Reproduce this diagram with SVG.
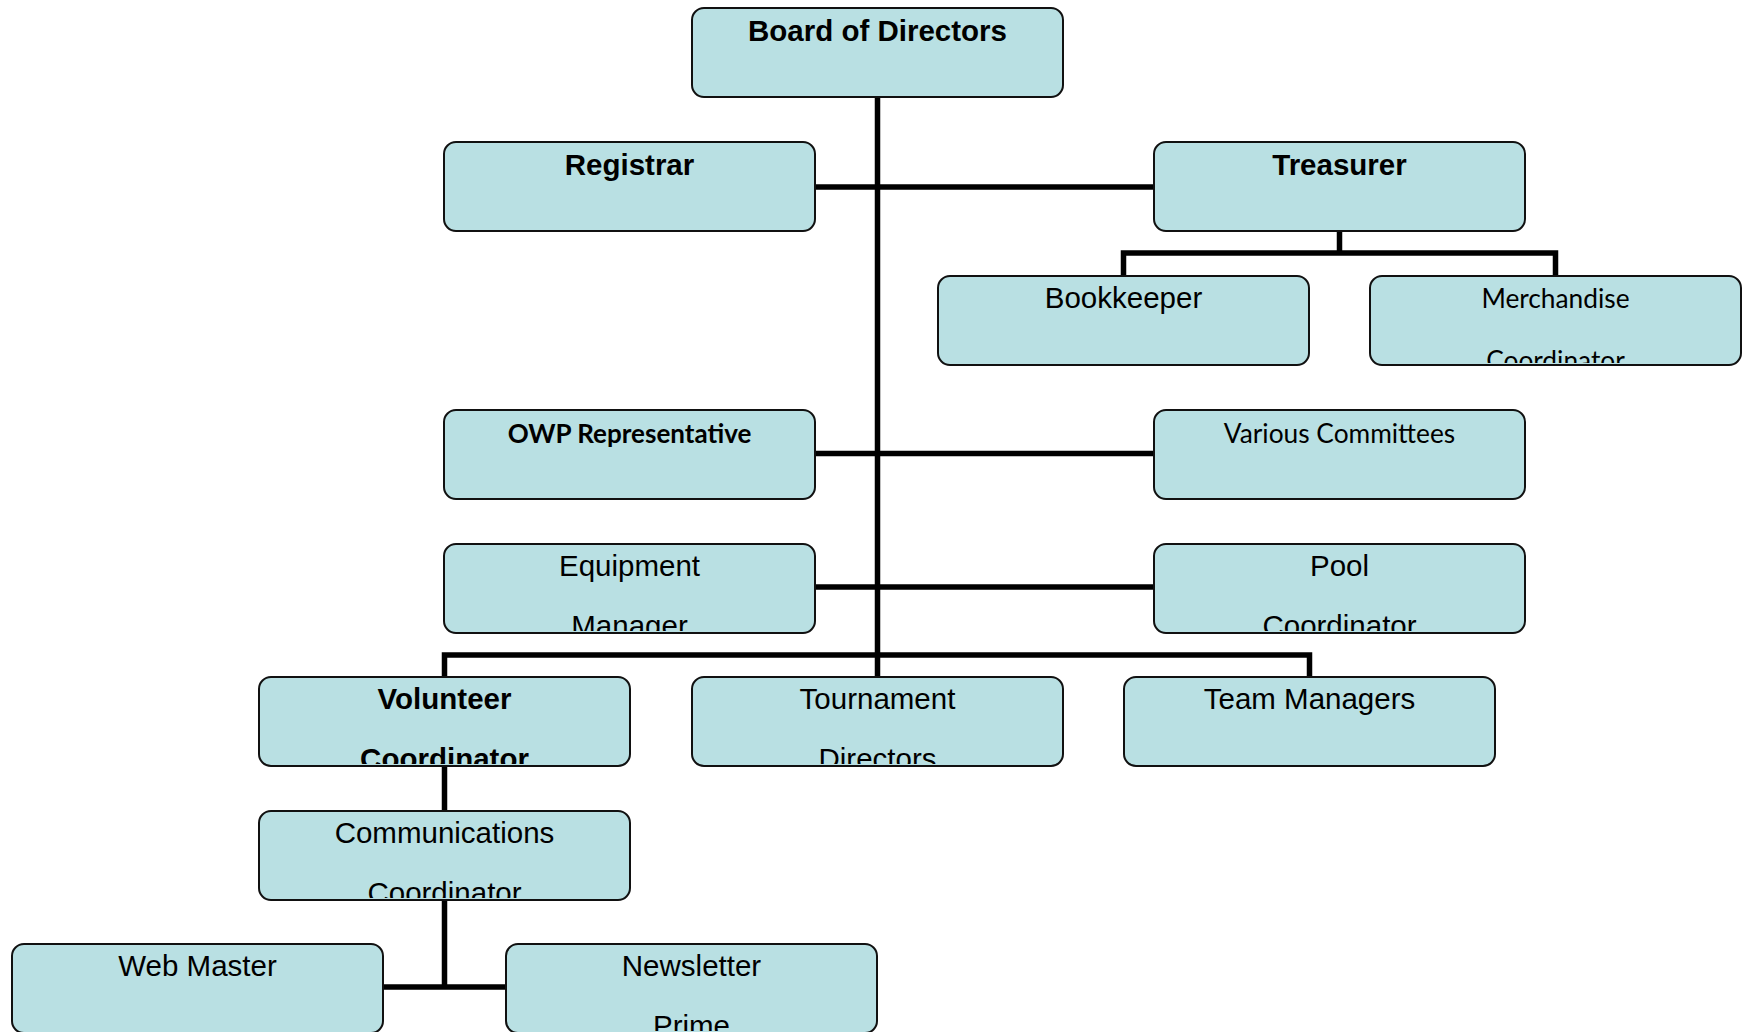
<svg xmlns="http://www.w3.org/2000/svg" width="1743" height="1032" viewBox="0 0 1743 1032">
<style>
.box{fill:#b9e0e3;stroke:#111;stroke-width:2}
.ar{font-family:"Liberation Sans",Arial,sans-serif;font-size:29.5px;fill:#000;text-anchor:middle}
.arb{font-family:"Liberation Sans",Arial,sans-serif;font-size:29.5px;font-weight:bold;fill:#000;text-anchor:middle}
.cal{font-family:Lato,"Open Sans",sans-serif;font-size:26.3px;fill:#000;text-anchor:middle}
.calb{font-family:Lato,"Open Sans",sans-serif;font-size:26px;font-weight:bold;fill:#000;text-anchor:middle}
.conn{fill:none;stroke:#000;stroke-width:5.5;stroke-linejoin:miter;stroke-linecap:butt}
</style>
<defs>
<clipPath id="c-merch"><rect x="1370" y="276" width="371" height="87" rx="12"/></clipPath>
<clipPath id="c-equip"><rect x="444" y="544" width="371" height="87" rx="12"/></clipPath>
<clipPath id="c-pool"><rect x="1154" y="544" width="371" height="87" rx="12"/></clipPath>
<clipPath id="c-vol"><rect x="259" y="677" width="371" height="87" rx="12"/></clipPath>
<clipPath id="c-tour"><rect x="692" y="677" width="371" height="87" rx="12"/></clipPath>
<clipPath id="c-comm"><rect x="259" y="811" width="371" height="87" rx="12"/></clipPath>
<clipPath id="c-news"><rect x="506" y="944" width="371" height="87" rx="12"/></clipPath>
</defs>
<rect width="1743" height="1032" fill="#fff"/>
<g id="connectors">
<path class="conn" d="M877.5 97 V677"/>
<path class="conn" d="M815 187 H1154"/>
<path class="conn" d="M1339.5 231 V253 M1123.5 276 V253 H1555.5 V276"/>
<path class="conn" d="M815 453.5 H1154"/>
<path class="conn" d="M815 587 H1154"/>
<path class="conn" d="M444.5 677 V655 H1309.5 V677"/>
<path class="conn" d="M444.5 766 V811"/>
<path class="conn" d="M444.5 900 V987 M382 987 H506"/>
</g>
<g id="board"><rect class="box" x="692" y="8" width="371" height="89" rx="12"/><text class="arb" x="877.5" y="41">Board of Directors</text></g>
<g id="registrar"><rect class="box" x="444" y="142" width="371" height="89" rx="12"/><text class="arb" x="629.5" y="175">Registrar</text></g>
<g id="treasurer"><rect class="box" x="1154" y="142" width="371" height="89" rx="12"/><text class="arb" x="1339.5" y="175">Treasurer</text></g>
<g id="bookkeeper"><rect class="box" x="938" y="276" width="371" height="89" rx="12"/><text class="ar" x="1123.5" y="308">Bookkeeper</text></g>
<g id="merchandise"><rect class="box" x="1370" y="276" width="371" height="89" rx="12"/><g clip-path="url(#c-merch)"><text class="cal" x="1555.5" y="308">Merchandise</text><text class="cal" x="1555.5" y="370">Coordinator</text></g></g>
<g id="owp"><rect class="box" x="444" y="410" width="371" height="89" rx="12"/><text class="calb" x="629.5" y="443">OWP Representative</text></g>
<g id="various"><rect class="box" x="1154" y="410" width="371" height="89" rx="12"/><text class="cal" x="1339.5" y="443">Various Committees</text></g>
<g id="equipment"><rect class="box" x="444" y="544" width="371" height="89" rx="12"/><g clip-path="url(#c-equip)"><text class="ar" x="629.5" y="576">Equipment</text><text class="ar" x="629.5" y="636">Manager</text></g></g>
<g id="pool"><rect class="box" x="1154" y="544" width="371" height="89" rx="12"/><g clip-path="url(#c-pool)"><text class="ar" x="1339.5" y="576">Pool</text><text class="ar" x="1339.5" y="636">Coordinator</text></g></g>
<g id="volunteer"><rect class="box" x="259" y="677" width="371" height="89" rx="12"/><g clip-path="url(#c-vol)"><text class="arb" x="444.5" y="709">Volunteer</text><text class="arb" x="444.5" y="769">Coordinator</text></g></g>
<g id="tournament"><rect class="box" x="692" y="677" width="371" height="89" rx="12"/><g clip-path="url(#c-tour)"><text class="ar" x="877.5" y="709">Tournament</text><text class="ar" x="877.5" y="769">Directors</text></g></g>
<g id="team"><rect class="box" x="1124" y="677" width="371" height="89" rx="12"/><text class="ar" x="1309.5" y="709">Team Managers</text></g>
<g id="communications"><rect class="box" x="259" y="811" width="371" height="89" rx="12"/><g clip-path="url(#c-comm)"><text class="ar" x="444.5" y="843">Communications</text><text class="ar" x="444.5" y="903">Coordinator</text></g></g>
<g id="webmaster"><rect class="box" x="12" y="944" width="371" height="89" rx="12"/><text class="ar" x="197.5" y="976">Web Master</text></g>
<g id="newsletter"><rect class="box" x="506" y="944" width="371" height="89" rx="12"/><g clip-path="url(#c-news)"><text class="ar" x="691.5" y="976">Newsletter</text><text class="ar" x="691.5" y="1036">Prime</text></g></g>
</svg>
